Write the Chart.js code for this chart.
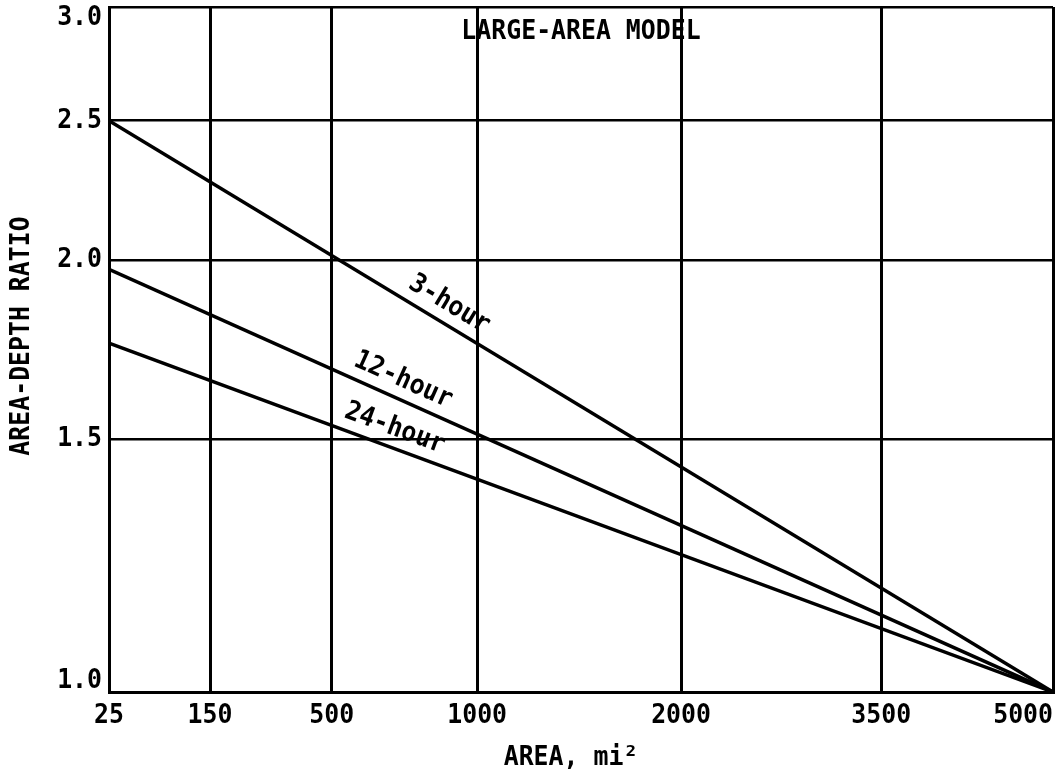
<!DOCTYPE html>
<html>
<head>
<meta charset="utf-8">
<script src="https://cdn.jsdelivr.net/npm/chart.js@4.4.1/dist/chart.umd.min.js"></script>
<style>
    body { margin: 0; background: #fff; }
    canvas { display: block; }
</style>
</head>
<body>
<canvas id="areaDepthChart" width="1061" height="780"></canvas>
<script>
const areaTicks = [25, 150, 500, 1000, 2000, 3500, 5000];
// spacing of the printed area scale (fraction of the axis length)
const areaTickPos = [0, 0.107, 0.236, 0.390, 0.606, 0.818, 1];
const ratioTicks = [1.0, 1.5, 2.0, 2.5, 3.0];

const durations = ['3-hour', '12-hour', '24-hour'];
const lineAreas = [25, 5000];
const ratio3hr = [2.50, 1.00];
const ratio12hr = [1.97, 1.00];
const ratio24hr = [1.75, 1.00];
const labelAreas = [870, 719, 694];

const FONT = 'bold 27px "DejaVu Sans Mono", "Liberation Mono", monospace';

function areaToPos(a) {
    for (let i = 1; i < areaTicks.length; i++) {
        if (a <= areaTicks[i]) {
            const t = (a - areaTicks[i - 1]) / (areaTicks[i] - areaTicks[i - 1]);
            return areaTickPos[i - 1] + t * (areaTickPos[i] - areaTickPos[i - 1]);
        }
    }
    return 1;
}

function toPoints(ratios) {
    return lineAreas.map((a, i) => ({ x: areaToPos(a), y: ratios[i] }));
}

function drawText(ctx, text, x, y, angle, align) {
    ctx.save();
    ctx.translate(x, y);
    ctx.rotate(angle || 0);
    ctx.scale(0.92, 1);
    ctx.textAlign = align || 'center';
    ctx.textBaseline = 'middle';
    ctx.fillText(text, 0, 0);
    ctx.restore();
}

const textPlugin = {
    id: 'textPlugin',
    afterDraw(chart) {
        const ctx = chart.ctx;
        const xs = chart.scales.x;
        const ys = chart.scales.y;
        const area = chart.chartArea;
        ctx.save();
        ctx.fillStyle = '#000';
        ctx.font = FONT;

        // x tick labels, the last one kept inside the frame
        areaTicks.forEach((a, i) => {
            const px = xs.getPixelForValue(areaTickPos[i]);
            const last = i === areaTicks.length - 1;
            drawText(ctx, String(a), px, area.bottom + 24, 0, last ? 'right' : 'center');
        });

        // y tick labels
        ratioTicks.forEach(v => {
            let py = ys.getPixelForValue(v);
            py = Math.min(Math.max(py, area.top + 11), area.bottom - 11);
            drawText(ctx, v.toFixed(1), area.left - 7, py, 0, 'right');
        });

        // titles
        drawText(ctx, 'LARGE-AREA MODEL', (area.left + area.right) / 2, area.top + 25);
        drawText(ctx, 'AREA, mi²', 571, area.bottom + 66);
        drawText(ctx, 'AREA-DEPTH RATIO', 22, 336, -Math.PI / 2);

        // curve labels along each line
        durations.forEach((name, i) => {
            const pts = chart.getDatasetMeta(i).data;
            const p0 = pts[0], p1 = pts[1];
            const ang = Math.atan2(p1.y - p0.y, p1.x - p0.x);
            const lx = xs.getPixelForValue(areaToPos(labelAreas[i]));
            const ly = p0.y + (lx - p0.x) * (p1.y - p0.y) / (p1.x - p0.x);
            const off = 19;
            drawText(ctx, name, lx + Math.sin(ang) * off, ly - Math.cos(ang) * off, ang);
        });
        ctx.restore();
    }
};

document.addEventListener('DOMContentLoaded', function() {
    const ctx = document.getElementById('areaDepthChart').getContext('2d');

    const data = {
        datasets: [
            { label: durations[0], data: toPoints(ratio3hr) },
            { label: durations[1], data: toPoints(ratio12hr) },
            { label: durations[2], data: toPoints(ratio24hr) }
        ].map(d => Object.assign(d, {
            borderColor: '#000',
            borderWidth: 3.5,
            pointRadius: 0,
            fill: false
        }))
    };

    const config = {
        type: 'line',
        data: data,
        options: {
            responsive: false,
            animation: false,
            layout: {
                padding: { top: 7, right: 8, left: 0, bottom: 0 }
            },
            scales: {
                x: {
                    type: 'linear',
                    min: 0,
                    max: 1,
                    afterBuildTicks: s => { s.ticks = areaTickPos.map(v => ({ value: v })); },
                    afterFit: s => { s.height = 88; },
                    ticks: { display: false },
                    grid: { color: '#000', lineWidth: 3, drawTicks: false },
                    border: { color: '#000', width: 3 }
                },
                y: {
                    type: 'logarithmic',
                    min: 1,
                    max: 3,
                    afterBuildTicks: s => { s.ticks = ratioTicks.map(v => ({ value: v })); },
                    afterFit: s => { s.width = 109; },
                    ticks: { display: false },
                    grid: { color: '#000', lineWidth: 2.5, drawTicks: false },
                    border: { color: '#000', width: 3 }
                }
            },
            plugins: {
                legend: { display: false },
                tooltip: { enabled: false }
            }
        },
        plugins: [textPlugin]
    };

    new Chart(ctx, config);
});
</script>
</body>
</html>
